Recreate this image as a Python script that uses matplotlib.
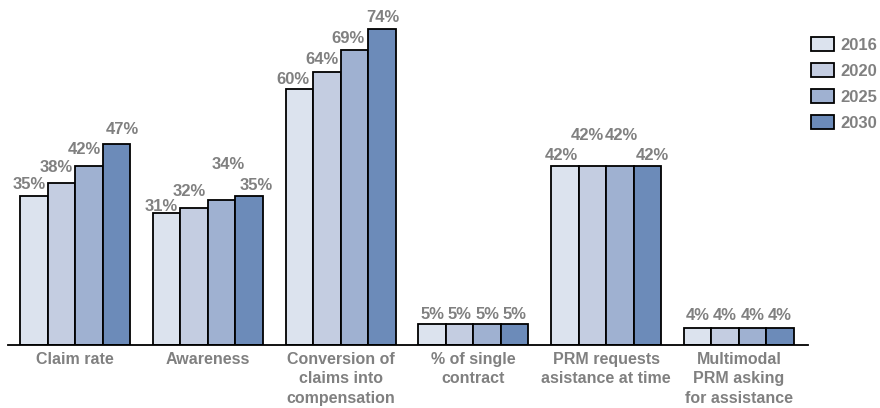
import numpy as np
import matplotlib.pyplot as plt
from matplotlib.patches import Patch

plt.rcParams['font.family'] = ['Liberation Sans', 'DejaVu Sans']

categories = ["Claim rate", "Awareness", "Conversion of\nclaims into\ncompensation",
              "% of single\ncontract", "PRM requests\nasistance at time",
              "Multimodal\nPRM asking\nfor assistance"]
years = ["2016", "2020", "2025", "2030"]
values = {
    "2016": [35, 31, 60, 5, 42, 4],
    "2020": [38, 32, 64, 5, 42, 4],
    "2025": [42, 34, 69, 5, 42, 4],
    "2030": [47, 35, 74, 5, 42, 4],
}
colors = ["#dce3ee", "#c4cde1", "#9fb1d1", "#6c8bb9"]
label_gray = "#808080"

# hand-placed label nudges (dx, dy in pixels) so the labels don't crowd
nudges = {
    "2016": [(-5, 7), (-5, 2), (-6, 5), (0, 5), (-4, 6), (0, 8)],
    "2020": [(-5, 11), (-5, 12), (-5, 8), (0, 5), (-5, 26), (0, 8)],
    "2025": [(-4, 12), (7, 31), (-6, 7), (0, 5), (1, 26), (0, 8)],
    "2030": [(6, 10), (7, 6), (1, 7), (0, 5), (5, 6), (0, 8)],
}

fig = plt.figure(figsize=(8.8, 4.08), dpi=100)
ax = fig.add_axes([8 / 880, 63 / 408, 800 / 880, 345 / 408])

x = np.arange(len(categories))
w = 0.207
px = 72 / 100
for i, yr in enumerate(years):
    pos = x + (i - 1.5) * w
    bars = ax.bar(pos, values[yr], w, color=colors[i], edgecolor="black",
                  linewidth=1.3, zorder=2)
    for b, v, (dx, dy) in zip(bars, values[yr], nudges[yr]):
        ax.annotate(f"{v}%", (b.get_x() + b.get_width() / 2, v),
                    xytext=(dx * px, dy * px), textcoords="offset points",
                    ha="center", va="baseline", fontsize=12, fontweight="bold",
                    color=label_gray)

ax.set_xlim(-0.505, 5.52)
ax.set_ylim(0, 80.8)
ax.set_xticks(x)
ax.set_xticklabels(categories, fontsize=11.5, fontweight="bold",
                   color=label_gray, linespacing=1.36)
ax.tick_params(axis="x", length=0, pad=5)
ax.set_yticks([])
for side in ["top", "right", "left"]:
    ax.spines[side].set_visible(False)
ax.spines["bottom"].set_linewidth(1.3)

handles = [Patch(facecolor=c, edgecolor="black", linewidth=1.3) for c in colors]
leg = fig.legend(handles, years, loc="upper left",
                 bbox_to_anchor=(811 / 880, 1 - 37 / 408),
                 frameon=False, borderpad=0, borderaxespad=0,
                 handlelength=1.38, handleheight=0.96,
                 labelspacing=0.6, handletextpad=0.36,
                 prop={"size": 12, "weight": "bold"})
for t in leg.get_texts():
    t.set_color(label_gray)

fig.savefig("out.png", dpi=100)
